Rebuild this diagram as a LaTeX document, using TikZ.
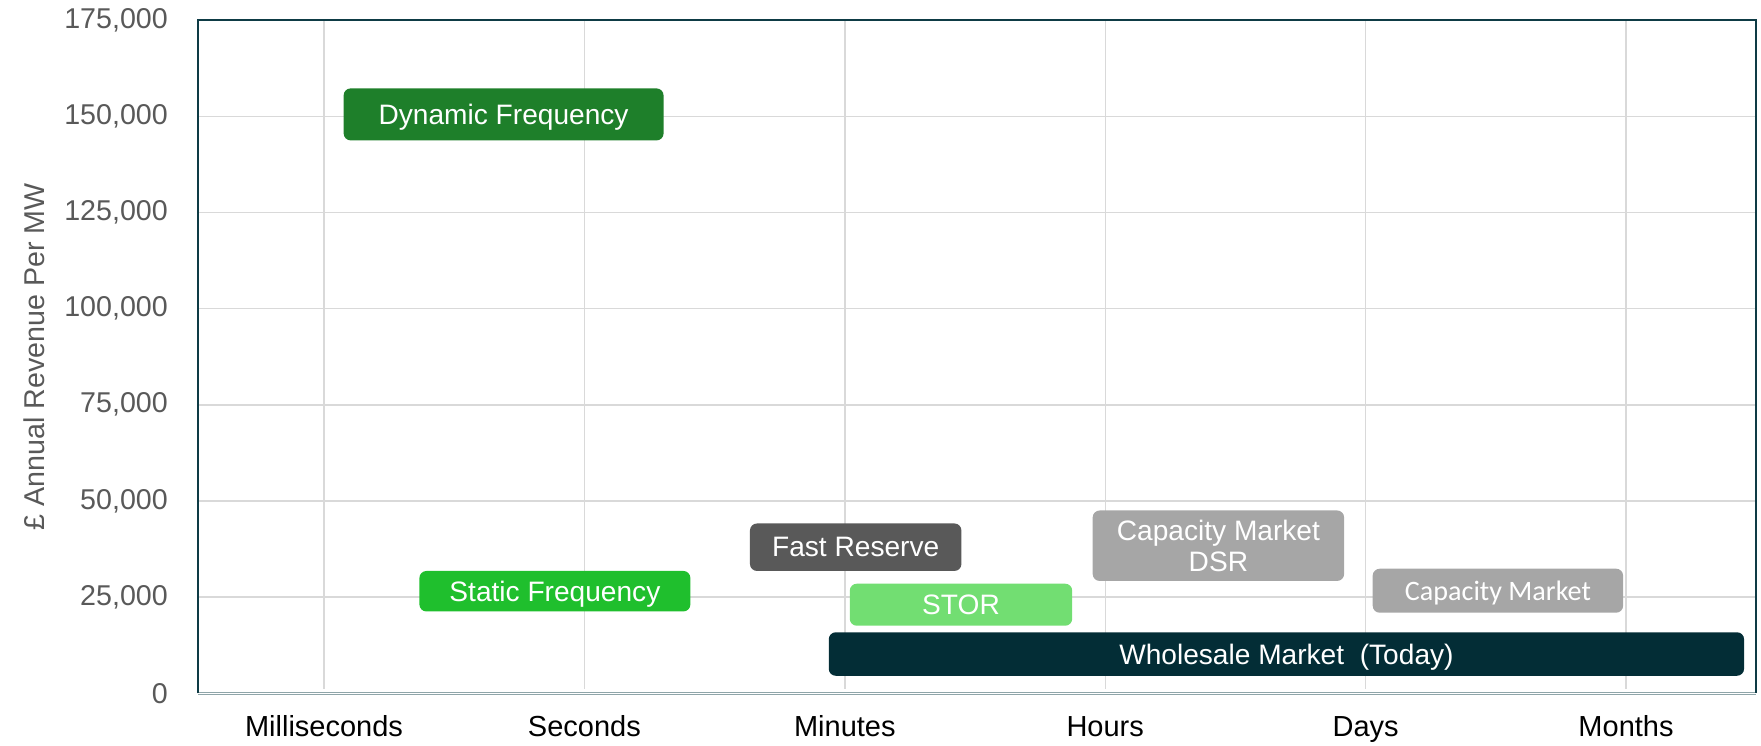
\documentclass[tikz,border=0pt]{standalone}
\usepackage{fontspec}
\setmainfont{Liberation Sans}
\newfontfamily\calibrifont{Carlito}
\usetikzlibrary{positioning}

\definecolor{framecol}{HTML}{0E3B45}
\definecolor{axiscol}{HTML}{8FA5A9}
\definecolor{gridcol}{HTML}{D9D9D9}
\definecolor{labelcol}{HTML}{595959}
\definecolor{dynamiccol}{HTML}{1E7F2A}
\definecolor{staticcol}{HTML}{1FBF2D}
\definecolor{storcol}{HTML}{72DE72}
\definecolor{reservecol}{HTML}{595959}
\definecolor{capacitycol}{HTML}{A6A6A6}
\definecolor{wholesalecol}{HTML}{032D36}

\begin{document}
\begin{tikzpicture}[x=0.02cm,y=-0.02cm,
    market/.style={
      % The shape:
      rectangle,rounded corners=0.14cm,inner sep=0pt,
      % Text
      text=white,align=center,text depth=0pt,font=\fontsize{16}{18}\selectfont
      },
    ticklabel/.style={text=labelcol,font=\fontsize{16.3}{18}\selectfont},
    catlabel/.style={text=black,font=\fontsize{16.5}{18}\selectfont,anchor=base}]
  \useasboundingbox (0,0) rectangle (1761,745);

  % grid
  \foreach \k in {1,...,7}
    \draw [gridcol,line width=0.8pt] (198,693.3-96.17*\k) -- (1756,693.3-96.17*\k);
  \foreach \i in {0,...,5}
    \draw [gridcol,line width=0.8pt] (324+260.4*\i,20) -- (324+260.4*\i,689);

  % axes
  \draw [axiscol,line width=0.5pt] (198,692.4) -- (1756,692.4);
  \draw [axiscol,line width=0.5pt] (198,694.4) -- (1756,694.4);
  \draw [framecol,line width=1.2pt] (198,693.3) |- (1756,20) -- (1756,693.3);

  % value labels
  \foreach \k/\val in {0/0,1/{25,000},2/{50,000},3/{75,000},4/{100,000},
                       5/{125,000},6/{150,000},7/{175,000}}
    \node (tick-\k) [ticklabel,anchor=east] at (174,693.3-96.17*\k) {\val};
  \node (revenue) [ticklabel,rotate=90] at (34,357) {£ Annual Revenue Per MW};

  % time scales
  \foreach \i/\name in {0/Milliseconds,1/Seconds,2/Minutes,3/Hours,4/Days,5/Months}
    \node (scale-\i) [catlabel] at (324+260.4*\i,736.5) {\name};

  % services
  \node (dynamic) [market,fill=dynamiccol,minimum width=6.40cm,minimum height=1.04cm]
    at (503.6,114.4) {Dynamic Frequency};
  \node (static) [market,fill=staticcol,minimum width=5.42cm,minimum height=0.81cm]
    at (554.9,591.2) {Static Frequency};
  \node (reserve) [market,fill=reservecol,minimum width=4.23cm,minimum height=0.95cm]
    at (855.7,547.2) {Fast Reserve};
  \node (stor) [market,fill=storcol,minimum width=4.45cm,minimum height=0.84cm]
    at (961,604.7) {STOR};
  \node (wholesale) [market,fill=wholesalecol,minimum width=18.31cm,minimum height=0.87cm]
    at (1286.4,654) {Wholesale Market\ \ (Today)};
  \node (capacity-dsr) [market,fill=capacitycol,minimum width=5.03cm,minimum height=1.41cm]
    at (1218.4,545.7) {Capacity Market\\DSR};
  \node (capacity) [market,fill=capacitycol,minimum width=5.01cm,minimum height=0.88cm,
    font=\calibrifont\fontsize{16}{18}\selectfont]
    at (1497.9,590.7) {Capacity Market};
\end{tikzpicture}
\end{document}
